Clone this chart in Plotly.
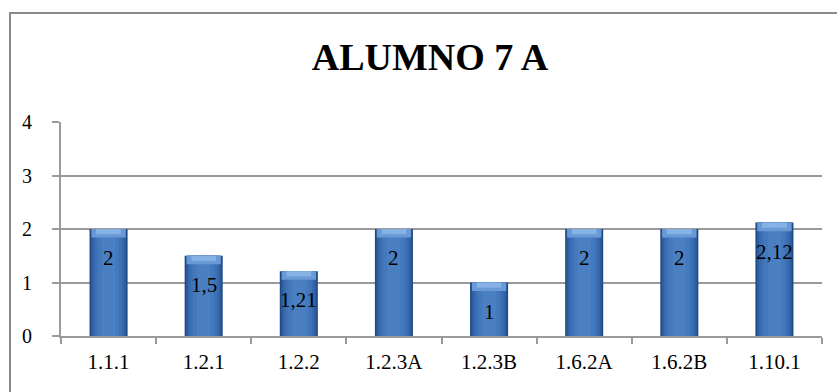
import plotly.graph_objects as go

# Scores per indicator
categories = ["1.1.1", "1.2.1", "1.2.2", "1.2.3A", "1.2.3B", "1.6.2A", "1.6.2B", "1.10.1"]
values = [2, 1.5, 1.21, 2, 1, 2, 2, 2.12]
y_ticks = [0, 1, 2, 3, 4]

SERIF = "Liberation Serif"
GRID = "#9a9a9a"

fig = go.Figure()

# Layered bars of decreasing width give the rounded, shaded look of the columns
layers = [
    (0.40, "#1f4a86"),
    (0.37, "#2d5c9c"),
    (0.33, "#3668aa"),
    (0.28, "#3d72b6"),
    (0.22, "#4479bd"),
    (0.14, "#4a7fc2"),
]
for w, c in layers:
    fig.add_trace(go.Bar(
        x=categories, y=values, width=w,
        marker=dict(color=c, line=dict(width=0)),
        hoverinfo="skip", showlegend=False,
    ))

# Light bevel across the top of each column
bevel = 0.16
fig.add_trace(go.Bar(
    x=categories, y=[bevel] * len(values), base=[v - bevel for v in values], width=0.36,
    marker=dict(color="#6a9ad6", line=dict(width=0)),
    hoverinfo="skip", showlegend=False,
))
fig.add_trace(go.Bar(
    x=categories, y=[bevel * 0.6] * len(values), base=[v - bevel * 0.6 for v in values], width=0.26,
    marker=dict(color="#86b2e6", line=dict(width=0)),
    hoverinfo="skip", showlegend=False,
))

# Value labels inside the columns, decimal comma
for cat, v in zip(categories, values):
    fig.add_annotation(
        x=cat, y=v, yshift=-29, text=f"{v:g}".replace(".", ","),
        showarrow=False, font=dict(family=SERIF, size=21, color="black"),
    )

# Outer chart frame
fig.add_shape(
    type="rect", xref="paper", yref="paper",
    x0=-0.067, x1=1.2, y0=-0.6, y1=1.509,
    line=dict(color="#8a8a8a", width=2), layer="below",
)

fig.update_layout(
    width=837, height=392,
    margin=dict(l=61, r=15, t=122, b=56),
    paper_bgcolor="white", plot_bgcolor="white",
    barmode="overlay", bargap=0.6,
    font=dict(family=SERIF, color="black"),
    title=dict(
        text="<b>ALUMNO 7 A</b>", x=430 / 837, xanchor="center",
        y=1 - 57 / 392, yanchor="middle", yref="container",
        font=dict(family=SERIF, size=38, color="black"),
    ),
    xaxis=dict(
        type="category", tickson="boundaries", ticks="outside", ticklen=6,
        tickcolor=GRID, tickwidth=2, showline=True, linecolor=GRID, linewidth=2,
        showgrid=False, ticklabelstandoff=6,
        tickfont=dict(family=SERIF, size=21, color="black"),
    ),
    yaxis=dict(
        range=[0, 4], tickvals=y_ticks, ticks="outside", ticklen=7,
        tickcolor=GRID, tickwidth=2, showline=True, linecolor=GRID, linewidth=2,
        showgrid=True, gridcolor=GRID, gridwidth=2, zeroline=False,
        ticklabelstandoff=16,
        tickfont=dict(family=SERIF, size=20, color="black"),
    ),
)

fig.write_html("out.html")
